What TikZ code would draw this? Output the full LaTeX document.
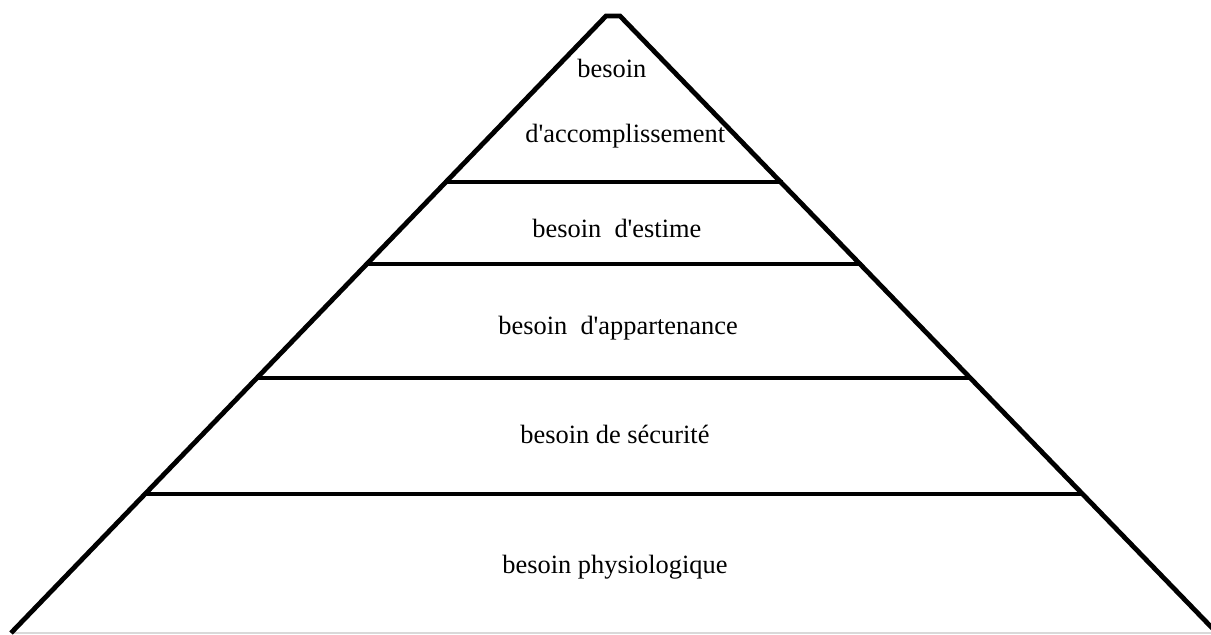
\documentclass[tikz,border=0pt]{standalone}
\usepackage{fontspec}
\setmainfont{Liberation Serif}[Ligatures=TeXOff]
\begin{document}
\begin{tikzpicture}[x=0.5pt,y=-0.5pt,
  edge/.style={line width=2.4pt, line join=miter},
  label/.style={anchor=base west, inner sep=0pt, font=\fontsize{13.2pt}{15pt}\selectfont}]
\useasboundingbox (0,0) rectangle (1211,635);
\clip (0,0) rectangle (1211,635);
% outline of the pyramid
\coordinate (apexL) at (606,16);
\coordinate (apexR) at (620,16);
\coordinate (baseL) at (11,633);
\coordinate (baseR) at (1217,633);
% floor line
\draw[black!15, line width=0.6pt] (baseL) -- (1211,633);
\draw[edge] (baseL) -- (apexL) -- (apexR) -- (baseR);
% dividing levels
\coordinate (l1a) at (444,182);  \coordinate (l1b) at (783,182);
\coordinate (l2a) at (365,264);  \coordinate (l2b) at (862,264);
\coordinate (l3a) at (256,378);  \coordinate (l3b) at (972,378);
\coordinate (l4a) at (145,494);  \coordinate (l4b) at (1083,494);
\draw[edge] (l1a) -- (l1b);
\draw[edge] (l2a) -- (l2b);
\draw[edge] (l3a) -- (l3b);
\draw[edge] (l4a) -- (l4b);
% level texts
\node[label] (t5a) at (577,78) {besoin};
\node[label] (t5b) at (525,143) {d'accomplissement};
\node[label] (t4) at (532,238) {besoin~\ d'estime};
\node[label] (t3) at (498,335) {besoin~\ d'appartenance};
\node[label] (t2) at (520,444) {besoin de sécurité};
\node[label] (t1) at (502,574) {besoin physiologique};
\end{tikzpicture}
\end{document}
